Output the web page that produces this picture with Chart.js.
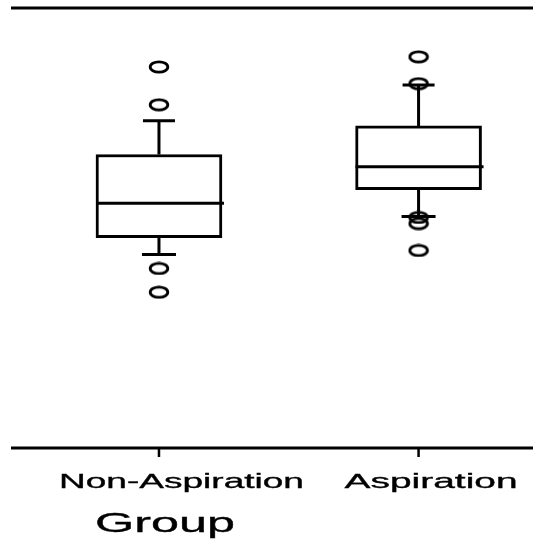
<!DOCTYPE html>
<html>
<head>
<meta charset="utf-8">
<script src="https://cdn.jsdelivr.net/npm/chart.js@4/dist/chart.umd.min.js"></script>
<style>
  html, body { margin: 0; padding: 0; background: #fff; }
  #chart { display: block; }
</style>
</head>
<body>
<canvas id="chart" width="533" height="542"></canvas>
<script>
// Box plot values (y axis is unlabelled in the source, read on a 0-100 scale)
const groups = ['Non-Aspiration', 'Aspiration'];
const groupPos = [1, 2];
const whiskerLow = [44.0, 52.6];
const q1 = [47.8, 58.7];
const median = [55.6, 63.9];
const q3 = [66.7, 73.2];
const whiskerHigh = [74.4, 82.5];
const outliers = [
  [86.6, 78.0, 40.8, 35.4],
  [88.9, 82.8, 52.4, 51.0, 44.9]
];
const axisTitle = 'Group';

// open ellipse used as the outlier marker
function ellipseMarker() {
  const c = document.createElement('canvas');
  c.width = 22; c.height = 14;
  const g = c.getContext('2d');
  g.lineWidth = 2.8;
  g.strokeStyle = '#000';
  g.beginPath();
  g.ellipse(11, 7, 8.8, 5.2, 0, 0, Math.PI * 2);
  g.stroke();
  return c;
}

const boxData = groupPos.map((x, i) => ({ x: x, y: [q1[i], q3[i]] }));
const outlierData = [];
outliers.forEach((list, i) => {
  list.forEach(v => outlierData.push({ x: groupPos[i], y: v }));
});

function stretchedText(ctx, text, cx, baseline, font, targetWidth) {
  ctx.save();
  ctx.font = font;
  const w = ctx.measureText(text).width;
  const sx = targetWidth / w;
  ctx.translate(cx, baseline);
  ctx.scale(sx, 1);
  ctx.textAlign = 'center';
  ctx.textBaseline = 'alphabetic';
  ctx.fillStyle = '#000';
  ctx.strokeStyle = '#000';
  ctx.lineWidth = 0.35;
  ctx.fillText(text, 0, 0);
  ctx.strokeText(text, 0, 0);
  ctx.restore();
}

const boxExtras = {
  id: 'boxExtras',
  afterDatasetsDraw(chart) {
    const ctx = chart.ctx;
    const xs = chart.scales.x;
    const ys = chart.scales.y;
    const bars = chart.getDatasetMeta(0).data;
    ctx.save();
    ctx.strokeStyle = '#000';
    ctx.lineWidth = 3;
    ctx.lineCap = 'butt';
    bars.forEach((bar, i) => {
      const cx = xs.getPixelForValue(groupPos[i]);
      const half = bar.width / 2;
      const ym = ys.getPixelForValue(median[i]);
      const yq1 = ys.getPixelForValue(q1[i]);
      const yq3 = ys.getPixelForValue(q3[i]);
      const ylo = ys.getPixelForValue(whiskerLow[i]);
      const yhi = ys.getPixelForValue(whiskerHigh[i]);
      ctx.beginPath();
      // median
      ctx.moveTo(cx - half, ym); ctx.lineTo(cx + half + 2, ym);
      // whiskers
      ctx.moveTo(cx, yq3); ctx.lineTo(cx, yhi);
      ctx.moveTo(cx, yq1); ctx.lineTo(cx, ylo);
      // caps
      ctx.moveTo(cx - 16, yhi); ctx.lineTo(cx + 16, yhi);
      ctx.moveTo(cx - 17, ylo); ctx.lineTo(cx + 17, ylo);
      ctx.stroke();
    });
    ctx.restore();
  },
  afterDraw(chart) {
    const ctx = chart.ctx;
    const area = chart.chartArea;
    const xs = chart.scales.x;
    ctx.save();
    ctx.strokeStyle = '#000';
    ctx.lineWidth = 3;
    ctx.beginPath();
    // top frame line and bottom axis line
    ctx.moveTo(area.left, area.top); ctx.lineTo(chart.width, area.top);
    ctx.moveTo(area.left, area.bottom); ctx.lineTo(chart.width, area.bottom);
    ctx.stroke();
    ctx.lineWidth = 2.5;
    ctx.beginPath();
    groupPos.forEach(v => {
      const px = xs.getPixelForValue(v);
      ctx.moveTo(px, area.bottom); ctx.lineTo(px, area.bottom + 9);
    });
    ctx.stroke();
    ctx.restore();

    const labelShift = [22.5, 12.5];
    const labelWidth = [245, 173];
    groups.forEach((g, i) => {
      const px = xs.getPixelForValue(groupPos[i]) + labelShift[i];
      stretchedText(ctx, g, px, area.bottom + 40, '21px "Liberation Sans", Arial, sans-serif', labelWidth[i]);
    });
    stretchedText(ctx, axisTitle, 165, area.bottom + 84, '28px "Liberation Sans", Arial, sans-serif', 140);
  }
};

new Chart(document.getElementById('chart'), {
  data: {
    datasets: [{
      type: 'bar',
      data: boxData,
      backgroundColor: '#fff',
      borderColor: '#000',
      borderWidth: 3,
      borderSkipped: false,
      barThickness: 126
    }, {
      type: 'scatter',
      data: outlierData,
      pointStyle: ellipseMarker(),
      pointRadius: 7,
      pointHoverRadius: 7
    }]
  },
  options: {
    responsive: false,
    animation: false,
    events: [],
    layout: { padding: { left: 11, right: 0, top: 7, bottom: 94 } },
    plugins: {
      legend: { display: false },
      tooltip: { enabled: false }
    },
    scales: {
      x: { type: 'linear', display: false, offset: false, min: 0.43, max: 2.41 },
      y: { type: 'linear', display: false, min: 0, max: 100 }
    }
  },
  plugins: [boxExtras]
});
</script>
</body>
</html>
